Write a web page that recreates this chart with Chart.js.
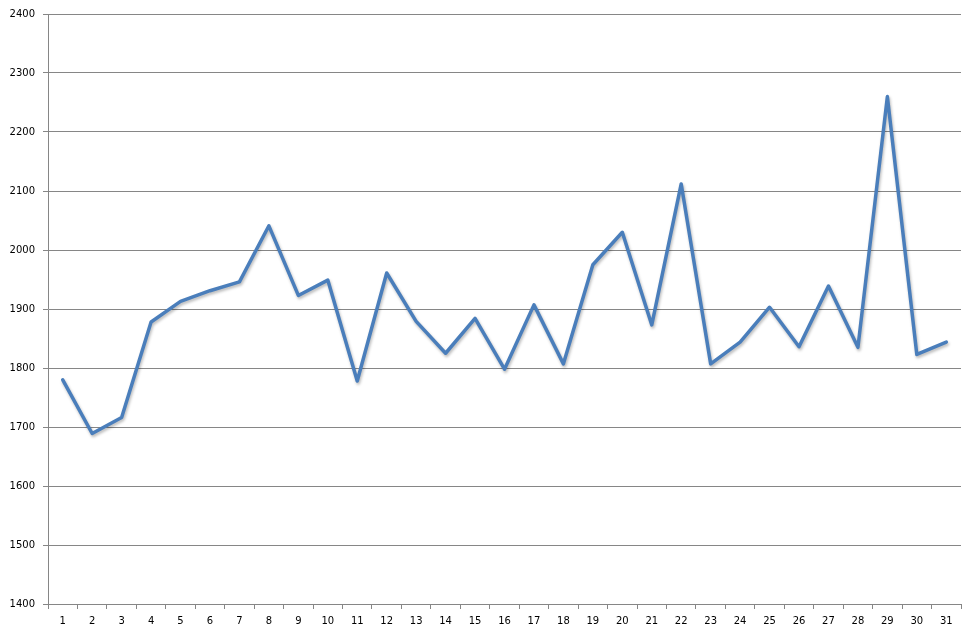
<!DOCTYPE html>
<html>
<head>
<meta charset="utf-8">
<script src="https://cdn.jsdelivr.net/npm/chart.js@4.4.1/dist/chart.umd.min.js"></script>
<style>
  html, body { margin: 0; padding: 0; background: #ffffff; }
  #wrap { width: 976px; height: 637px; }
</style>
</head>
<body>
<div id="wrap"><canvas id="c" width="976" height="637"></canvas></div>
<script>
const categories = ["1","2","3","4","5","6","7","8","9","10","11","12","13","14","15","16","17","18","19","20","21","22","23","24","25","26","27","28","29","30","31"];
const seriesValues = [1780,1689,1716,1878,1913,1931,1946,2041,1923,1949,1778,1961,1879,1825,1884,1798,1907,1807,1975,2030,1873,2112,1807,1844,1903,1836,1939,1835,2260,1823,1844];
const yMin = 1400;
const yMax = 2400;
const yStep = 100;

const shadowPlugin = {
  id: 'lineShadow',
  beforeDatasetsDraw(chart) {
    const ctx = chart.ctx;
    ctx.save();
    ctx.shadowColor = 'rgba(0,0,0,0.28)';
    ctx.shadowBlur = 3;
    ctx.shadowOffsetX = 1;
    ctx.shadowOffsetY = 2;
  },
  afterDatasetsDraw(chart) {
    chart.ctx.restore();
  }
};

const gridColor = '#868686';

new Chart(document.getElementById('c'), {
  type: 'line',
  data: {
    labels: categories,
    datasets: [{
      data: seriesValues,
      borderColor: '#4A7EBB',
      borderWidth: 3.5,
      pointRadius: 0,
      pointHoverRadius: 0,
      tension: 0,
      fill: false,
      borderJoinStyle: 'round',
      borderCapStyle: 'round'
    }]
  },
  options: {
    responsive: false,
    animation: false,
    devicePixelRatio: 1,
    layout: { padding: { left: 10, right: 15, top: 14, bottom: 10 } },
    plugins: {
      legend: { display: false },
      tooltip: { enabled: false }
    },
    scales: {
      x: {
        offset: true,
        afterFit(scale) { scale.height = 23; },
        grid: {
          offset: true,
          drawOnChartArea: false,
          drawTicks: true,
          tickLength: 5,
          color: gridColor
        },
        border: { color: gridColor, width: 1 },
        ticks: {
          color: '#000000',
          font: { family: 'DejaVu Sans', size: 10 },
          padding: 6,
          maxRotation: 0,
          autoSkip: false
        }
      },
      y: {
        min: yMin,
        max: yMax,
        afterFit(scale) { scale.width = 38; },
        grid: {
          color: gridColor,
          tickLength: 5,
          drawTicks: true
        },
        border: { color: gridColor, width: 1 },
        ticks: {
          stepSize: yStep,
          color: '#000000',
          font: { family: 'DejaVu Sans', size: 10 },
          padding: 8,
          callback: (v) => String(v)
        }
      }
    }
  },
  plugins: [shadowPlugin]
});
</script>
</body>
</html>
